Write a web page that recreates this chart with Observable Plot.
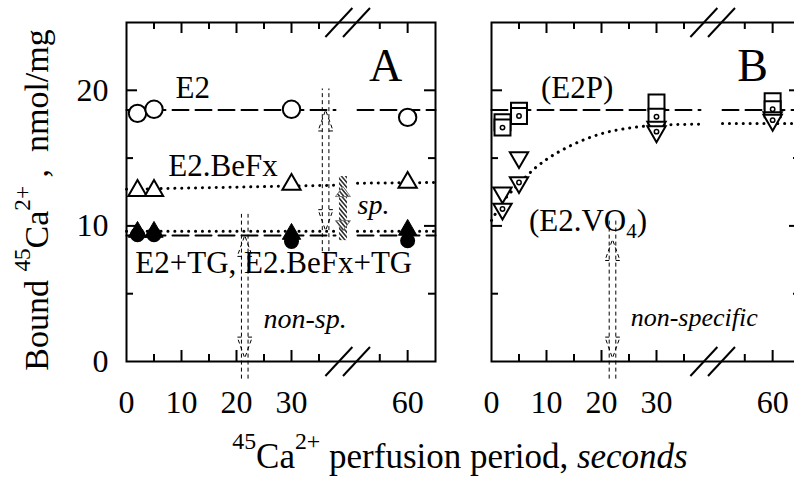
<!DOCTYPE html>
<html><head><meta charset="utf-8">
<script src="https://cdn.jsdelivr.net/npm/d3@7"></script>
<script src="https://cdn.jsdelivr.net/npm/@observablehq/plot@0.6"></script>
<style>
html,body{margin:0;padding:0;background:#fff;overflow:hidden;}
#wrap{position:relative;width:794px;height:483px;overflow:hidden;font-family:"Liberation Serif","Times New Roman",serif;color:#000;}
.panel{position:absolute;top:0;}
.panel text{font-family:"Liberation Serif","Times New Roman",serif;}
.lab{position:absolute;font-size:34px;line-height:34px;white-space:nowrap;text-align:center;}
.lab sup{font-size:0.68em;line-height:0;position:relative;top:-0.78em;vertical-align:baseline;}
</style></head><body><div id="wrap"></div>
<script>
// ---------- data ----------
const xTickLabels = [0, 10, 20, 30, 60];
const yTickLabels = [0, 10, 20];
const xMajorTicks = [10, 20, 30, 60];
const xMinorTicks = [5, 15, 25, 35, 55];
const yMajorTicks = [10, 20];
const yMinorTicks = [5, 15];
const axisBreaks = [40, 50.4];

const times = [2, 5, 30, 60];
// Panel A
const e2 = [18.3, 18.6, 18.6, 18.0];
const e2BeFx = [12.6, 12.6, 13.05, 13.2];
const e2TG = [9.35, 9.35, 8.85, 8.9];
const e2BeFxTG = [9.55, 9.55, 9.4, 9.7];
const lineX = [0, 38, 51, 65];
const lineSeg = [0, 0, 1, 1];
const e2Line = [18.55, 18.55, 18.55, 18.55];
const beFxLine = [12.7, 13.0, 13.15, 13.2];
const tgDashLine = [9.3, 9.3, 9.3, 9.3];
const tgDotLine = [9.6, 9.6, 9.6, 9.6];
// Panel B
const e2pOpen = [17.65, 18.5, 19.1, 19.2];
const e2pDot = [17.25, 18.1, 18.05, 18.6];
const vo4Open = [12.45, 15.05, 17.3, 18.0];
const vo4Dot = [11.25, 13.2, 16.95, 17.8];
const e2pLine = [18.55, 18.55, 18.55, 18.55];
const vo4CurveX = [0, 2.5, 5, 7.75, 10, 13.8, 20, 26, 30, 38, 51, 65];
const vo4CurveY = [10.4, 12.0, 13.1, 14.2, 14.9, 15.8, 16.8, 17.27, 17.42, 17.5, 17.55, 17.55];
const vo4CurveSeg = [0, 0, 0, 0, 0, 0, 0, 0, 0, 0, 1, 1];

const arrowsA = [{x: 36.2, y1: 9.65, y2: 18.55}, {x: 21.5, y1: 0.25, y2: 9.3}];
const hatchedA = [{x: 42.4, y1: 9.65, y2: 12.9}];
const arrowsB = [{x: 22, y1: 0.25, y2: 9.0}];

const labelsA = [{x: 8.9, y: 19.45, t: "E2"}, {x: 7.6, y: 13.7, t: "E2.BeFx"}, {x: 1.6, y: 6.5, t: "E2+TG, E2.BeFx+TG"}];
const notesA = [{x: 51, y: 10.9, t: "sp.", s: 28}, {x: 24.9, y: 2.5, t: "non-sp.", s: 28}];
const labelsB = [{x: 9.0, y: 19.45, t: "(E2P)"}, {x: 6.8, y: 9.65, t: "(E2.VO4)"}];
const notesB = [{x: 25.3, y: 2.65, t: "non-specific", s: 26}];

// ---------- helpers ----------
const FONT = "'Liberation Serif', 'Times New Roman', serif";
const pts = (xs, ys) => xs.map((x, i) => ({x, y: ys[i]}));
const seg = (xs, ys, ss) => xs.map((x, i) => ({x, y: ys[i], s: ss[i]}));
const S3 = Math.sqrt(3);
const triDown = {draw(c, size) { const y = Math.sqrt(size / (3 * S3)); c.moveTo(0, 2 * y); c.lineTo(-S3 * y, -y); c.lineTo(S3 * y, -y); c.closePath(); }};
const headUp = {draw(c) { c.moveTo(-3.3, 21); c.lineTo(-7.5, 21); c.lineTo(0, 0); c.lineTo(7.5, 21); c.lineTo(3.3, 21); }};
const headDown = {draw(c) { c.moveTo(-3.3, -21); c.lineTo(-7.5, -21); c.lineTo(0, 0); c.lineTo(7.5, -21); c.lineTo(3.3, -21); }};
const hUp = {draw(c) { c.moveTo(0, 0); c.lineTo(-7.5, 10); c.lineTo(7.5, 10); c.closePath(); }};
const hDown = {draw(c) { c.moveTo(0, 0); c.lineTo(-7.5, -10); c.lineTo(7.5, -10); c.closePath(); }};
const slash = {draw(c) { c.moveTo(-13.5, 14.5); c.lineTo(13.5, -14.5); }};

const W = 455, H = 420, ML = 126, MR = 20, MT = 22, MB = 59;
const innerW = W - ML - MR, innerH = H - MT - MB;
const dashed = {stroke: "black", strokeWidth: 2, strokeDasharray: "16 7"};
const dotted = {stroke: "black", strokeWidth: 3, strokeDasharray: "0.1 6.8", strokeLinecap: "round"};

function dashedArrows(data) {
  const o = {stroke: "black", strokeWidth: 1, strokeDasharray: "4 3"};
  return [
    Plot.ruleX(data, {x: "x", y1: "y1", y2: "y2", dx: -3.3, insetTop: 21, insetBottom: 21, ...o}),
    Plot.ruleX(data, {x: "x", y1: "y1", y2: "y2", dx: 3.3, insetTop: 21, insetBottom: 21, ...o}),
    Plot.dot(data, {x: "x", y: "y2", symbol: headUp, r: 5, fill: "none", ...o}),
    Plot.dot(data, {x: "x", y: "y1", symbol: headDown, r: 5, fill: "none", ...o})
  ];
}

function panel(cfg) {
  const marks = [
    Plot.tickX(xMajorTicks, {x: d => d, insetTop: innerH - 11, strokeWidth: 2}),
    Plot.tickX(xMajorTicks, {x: d => d, insetBottom: innerH - 11, strokeWidth: 2}),
    Plot.tickX(xMinorTicks, {x: d => d, insetTop: innerH - 7, strokeWidth: 2}),
    Plot.tickX(xMinorTicks, {x: d => d, insetBottom: innerH - 7, strokeWidth: 2}),
    Plot.tickY(yMajorTicks, {y: d => d, insetRight: innerW - 11, strokeWidth: 2}),
    Plot.tickY(yMajorTicks, {y: d => d, insetLeft: innerW - 11, strokeWidth: 2}),
    Plot.tickY(yMinorTicks, {y: d => d, insetRight: innerW - 7, strokeWidth: 2}),
    Plot.tickY(yMinorTicks, {y: d => d, insetLeft: innerW - 7, strokeWidth: 2}),
    Plot.frame({stroke: "black", strokeWidth: 2}),
    Plot.dot(axisBreaks, {x: d => d, y: () => 25, symbol: slash, r: 5, stroke: "black", strokeWidth: 2}),
    Plot.dot(axisBreaks, {x: d => d, y: () => 0, symbol: slash, r: 5, stroke: "black", strokeWidth: 2}),
    Plot.text(xTickLabels, {x: d => d, text: d => String(d), frameAnchor: "bottom", textAnchor: "middle", lineAnchor: "bottom", dy: 51, fontSize: 32, fontFamily: FONT})
  ];
  if (cfg.yLabels) marks.push(Plot.text(yTickLabels, {y: d => d, text: d => String(d), frameAnchor: "left", textAnchor: "end", lineAnchor: "middle", dx: -18, fontSize: 32, fontFamily: FONT}));
  marks.push(...cfg.marks);
  marks.push(
    Plot.text(cfg.labels, {x: "x", y: "y", text: "t", textAnchor: "start", lineAnchor: "bottom", fontSize: 31, fontFamily: FONT}),
    Plot.text(cfg.notes, {x: "x", y: "y", text: "t", textAnchor: "start", lineAnchor: "bottom", fontStyle: "italic", fontSize: d => d.s, fontFamily: FONT}),
    Plot.text([cfg.letter], {text: d => d, frameAnchor: "top-right", textAnchor: "middle", lineAnchor: "bottom", dx: cfg.letterDx, dy: 58, fontSize: 46, fontFamily: FONT})
  );
  return Plot.plot({
    width: W, height: H, marginLeft: ML, marginRight: MR, marginTop: MT, marginBottom: MB,
    style: "font-family: 'Liberation Serif', serif; background: transparent; overflow: visible; color: black;",
    x: {type: "linear", domain: [0, 38, 51, 65], range: [126, 335, 357, 435], axis: null},
    y: {domain: [0, 25], axis: null},
    marks
  });
}

// ---------- panel A ----------
const marksA = [
  Plot.line(seg(lineX, e2Line, lineSeg), {x: "x", y: "y", z: "s", ...dashed}),
  Plot.line(seg(lineX, beFxLine, lineSeg), {x: "x", y: "y", z: "s", ...dotted}),
  Plot.line(seg(lineX, tgDashLine, lineSeg), {x: "x", y: "y", z: "s", ...dashed}),
  Plot.line(seg(lineX, tgDotLine, lineSeg), {x: "x", y: "y", z: "s", ...dotted}),
  ...dashedArrows(arrowsA),
  Plot.ruleX(hatchedA, {x: "x", y1: "y1", y2: "y2", insetTop: 10, insetBottom: 10, stroke: "url(#hatch)", strokeWidth: 8}),
  Plot.dot(hatchedA, {x: "x", y: "y2", symbol: hUp, r: 5, fill: "url(#hatch)", stroke: "#666", strokeWidth: 0.8}),
  Plot.dot(hatchedA, {x: "x", y: "y1", symbol: hDown, r: 5, fill: "url(#hatch)", stroke: "#666", strokeWidth: 0.8}),
  Plot.dot(pts(times, e2), {x: "x", y: "y", r: 8.7, fill: "white", stroke: "black", strokeWidth: 2}),
  Plot.dot(pts(times, e2BeFx), {x: "x", y: "y", symbol: "triangle", r: 6.8, fill: "white", stroke: "black", strokeWidth: 2}),
  Plot.dot(pts(times, e2BeFxTG), {x: "x", y: "y", symbol: "triangle", r: 6.8, fill: "black", stroke: "black", strokeWidth: 1}),
  Plot.dot(pts(times, e2TG), {x: "x", y: "y", r: 7.5, fill: "black"})
];
const svgA = panel({marks: marksA, labels: labelsA, notes: notesA, letter: "A", letterDx: -50, yLabels: true});

const defs = d3.select(svgA).insert("defs", ":first-child");
const pat = defs.append("pattern").attr("id", "hatch").attr("patternUnits", "userSpaceOnUse")
  .attr("width", 3.2).attr("height", 3.2).attr("patternTransform", "rotate(-40)");
pat.append("rect").attr("width", 3.2).attr("height", 3.2).attr("fill", "white");
pat.append("rect").attr("width", 1.6).attr("height", 3.2).attr("fill", "#333");

// ---------- panel B ----------
const marksB = [
  Plot.line(seg(lineX, e2pLine, lineSeg), {x: "x", y: "y", z: "s", ...dashed}),
  Plot.line(seg(vo4CurveX, vo4CurveY, vo4CurveSeg), {x: "x", y: "y", z: "s", curve: "monotone-x", ...dotted}),
  ...dashedArrows(arrowsB),
  Plot.dot(pts(times, e2pOpen), {x: "x", y: "y", symbol: "square", r: 9, fill: "white", stroke: "black", strokeWidth: 2}),
  Plot.dot(pts(times, e2pDot), {x: "x", y: "y", symbol: "square", r: 9, fill: "white", stroke: "black", strokeWidth: 2}),
  Plot.dot(pts(times, e2pDot), {x: "x", y: "y", r: 2.2, fill: "white", stroke: "black", strokeWidth: 1.5}),
  Plot.dot(pts(times, vo4Open), {x: "x", y: "y", symbol: triDown, r: 6.8, fill: "white", stroke: "black", strokeWidth: 2}),
  Plot.dot(pts(times, vo4Dot), {x: "x", y: "y", symbol: triDown, r: 6.8, fill: "white", stroke: "black", strokeWidth: 2}),
  Plot.dot(pts(times, vo4Dot), {x: "x", y: "y", r: 2.2, fill: "white", stroke: "black", strokeWidth: 1.5})
];
const svgB = panel({marks: marksB, labels: labelsB, notes: notesB, letter: "B", letterDx: -48, yLabels: false});

d3.select(svgB).selectAll("text").filter(function() { return this.textContent === "(E2.VO4)"; }).each(function() {
  const t = d3.select(this);
  t.text("(E2.VO");
  t.append("tspan").attr("font-size", 21).attr("dy", 7).text("4");
  t.append("tspan").attr("dy", -7).text(")");
});

const wrap = document.getElementById("wrap");
svgA.classList.add("panel"); svgA.style.left = "0px";
svgB.classList.add("panel"); svgB.style.left = "364.7px";
wrap.appendChild(svgA);
wrap.appendChild(svgB);

const yLab = document.createElement("div");
yLab.className = "lab";
yLab.style.cssText = "width:420px;left:-173.5px;top:183px;transform:rotate(-90deg);transform-origin:210px 17px;";
yLab.innerHTML = "Bound <sup>45</sup>Ca<sup>2+</sup>&nbsp;,&nbsp;&nbsp;nmol/mg";
wrap.appendChild(yLab);

const xLab = document.createElement("div");
xLab.className = "lab";
xLab.style.cssText = "width:700px;left:110px;top:438.7px;font-size:35px;line-height:35px;";
xLab.innerHTML = "<sup>45</sup>Ca<sup>2+</sup> perfusion period, <i>seconds</i>";
wrap.appendChild(xLab);
</script></body></html>
